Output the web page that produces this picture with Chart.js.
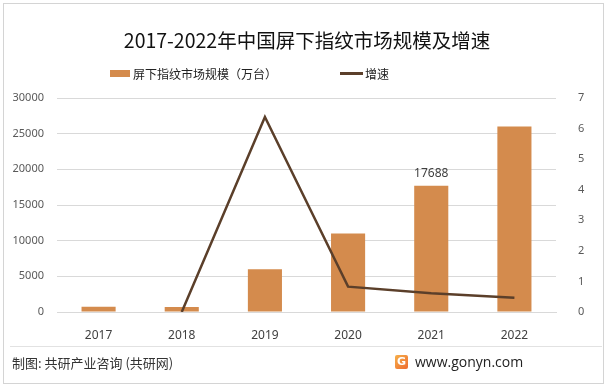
<!DOCTYPE html>
<html>
<head>
<meta charset="utf-8">
<script src="https://cdn.jsdelivr.net/npm/chart.js@4"></script>
<style>
  html, body { margin: 0; padding: 0; background: #fff; }
  body { width: 614px; height: 386px; position: relative; overflow: hidden;
         font-family: "Noto Sans CJK SC", "Noto Sans", sans-serif; }
  #frame { position: absolute; left: 3px; top: 3px; width: 599px; height: 379px; border: 1px solid #d4d4d4; }
  #wrap { position: absolute; left: 0; top: 0; width: 614px; height: 386px; }
  #title { position: absolute; left: 0; width: 614px; top: 26px; text-align: center;
           font-size: 19.5px; color: #111; line-height: 28px; }
  .lg { position: absolute; top: 65px; font-size: 12px; color: #222; line-height: 18px; }
  .sw { position: absolute; }
  #sep { position: absolute; left: 10px; width: 592px; top: 346px; height: 1px; background: #e2e2e2; }
  #src { position: absolute; left: 12px; top: 354px; font-size: 13px; color: #333; line-height: 18px; }
  #site { position: absolute; left: 415px; top: 353px; font-size: 14px; color: #222; line-height: 18px;
          font-family: "Open Sans", "Noto Sans", sans-serif; }
  #logo { position: absolute; left: 395px; top: 355px; width: 13px; height: 14px; border-radius: 2px;
          background: linear-gradient(135deg, #f6b04a, #ee6a2f); color: #fff; font-size: 11px;
          font-weight: bold; text-align: center; line-height: 14px; font-family: "DejaVu Sans", sans-serif; }
</style>
</head>
<body>
<div id="wrap"><canvas id="c" width="614" height="386"></canvas></div>
<div id="frame"></div>
<div id="title">2017-2022年中国屏下指纹市场规模及增速</div>
<div class="sw" style="left:110px;top:70px;width:20px;height:7px;background:#D48B4D"></div>
<div class="lg" style="left:133px">屏下指纹市场规模（万台）</div>
<div class="sw" style="left:340px;top:72px;width:23px;height:3px;background:#5B3F2A"></div>
<div class="lg" style="left:365px">增速</div>
<div id="sep"></div>
<div id="src">制图: 共研产业咨询 (共研网)</div>
<div id="logo">G</div>
<div id="site">www.gonyn.com</div>
<script>
const years = ['2017', '2018', '2019', '2020', '2021', '2022'];
const marketSize = [750, 700, 6000, 11000, 17688, 26000];
const growth = [null, 0, 6.38, 0.83, 0.61, 0.47];
const leftTicks = [0, 5000, 10000, 15000, 20000, 25000, 30000];
const rightTicks = [0, 1, 2, 3, 4, 5, 6, 7];
const labelledIndex = 4;

const tickFont = { family: '"Noto Sans", "DejaVu Sans", sans-serif', size: 11 };

const barLabel = {
    id: 'barLabel',
    afterDatasetsDraw(chart) {
        const ctx = chart.ctx;
        const bar = chart.getDatasetMeta(1).data[labelledIndex];
        ctx.save();
        ctx.font = '12px "Noto Sans", "DejaVu Sans", sans-serif';
        ctx.fillStyle = '#404040';
        ctx.textAlign = 'center';
        ctx.textBaseline = 'bottom';
        ctx.fillText(String(marketSize[labelledIndex]), bar.x, bar.y - 6);
        ctx.restore();
    }
};

new Chart(document.getElementById('c'), {
    data: {
        labels: years,
        datasets: [
            {
                type: 'line',
                label: '增速',
                data: growth,
                yAxisID: 'y1',
                borderColor: '#5B3F2A',
                borderWidth: 2.5,
                pointRadius: 0,
                tension: 0,
                spanGaps: false,
                order: 0
            },
            {
                type: 'bar',
                label: '屏下指纹市场规模（万台）',
                data: marketSize,
                yAxisID: 'y',
                backgroundColor: '#D48B4D',
                barPercentage: 0.82,
                categoryPercentage: 0.5,
                order: 1
            }
        ]
    },
    options: {
        responsive: false,
        animation: false,
        layout: { padding: { left: 0, right: 0, top: 98, bottom: 0 } },
        plugins: { legend: { display: false }, tooltip: { enabled: false } },
        scales: {
            x: {
                grid: { display: false },
                border: { color: '#d9d9d9' },
                ticks: { color: '#404040', font: { family: tickFont.family, size: 12 }, padding: 8 },
                afterFit(scale) { scale.height = 74; }
            },
            y: {
                position: 'left',
                min: 0, max: 30000,
                afterBuildTicks(scale) { scale.ticks = leftTicks.map(v => ({ value: v })); },
                grid: { color: '#d9d9d9', drawTicks: false },
                border: { display: false },
                ticks: { color: '#595959', font: tickFont, padding: 13, callback: v => String(v) },
                afterFit(scale) { scale.width = 57; }
            },
            y1: {
                position: 'right',
                min: 0, max: 7,
                afterBuildTicks(scale) { scale.ticks = rightTicks.map(v => ({ value: v })); },
                grid: { display: false },
                border: { display: false },
                ticks: { color: '#595959', font: tickFont, padding: 14, callback: v => String(v) },
                afterFit(scale) { scale.width = 58; }
            }
        }
    },
    plugins: [barLabel]
});
</script>
</body>
</html>
